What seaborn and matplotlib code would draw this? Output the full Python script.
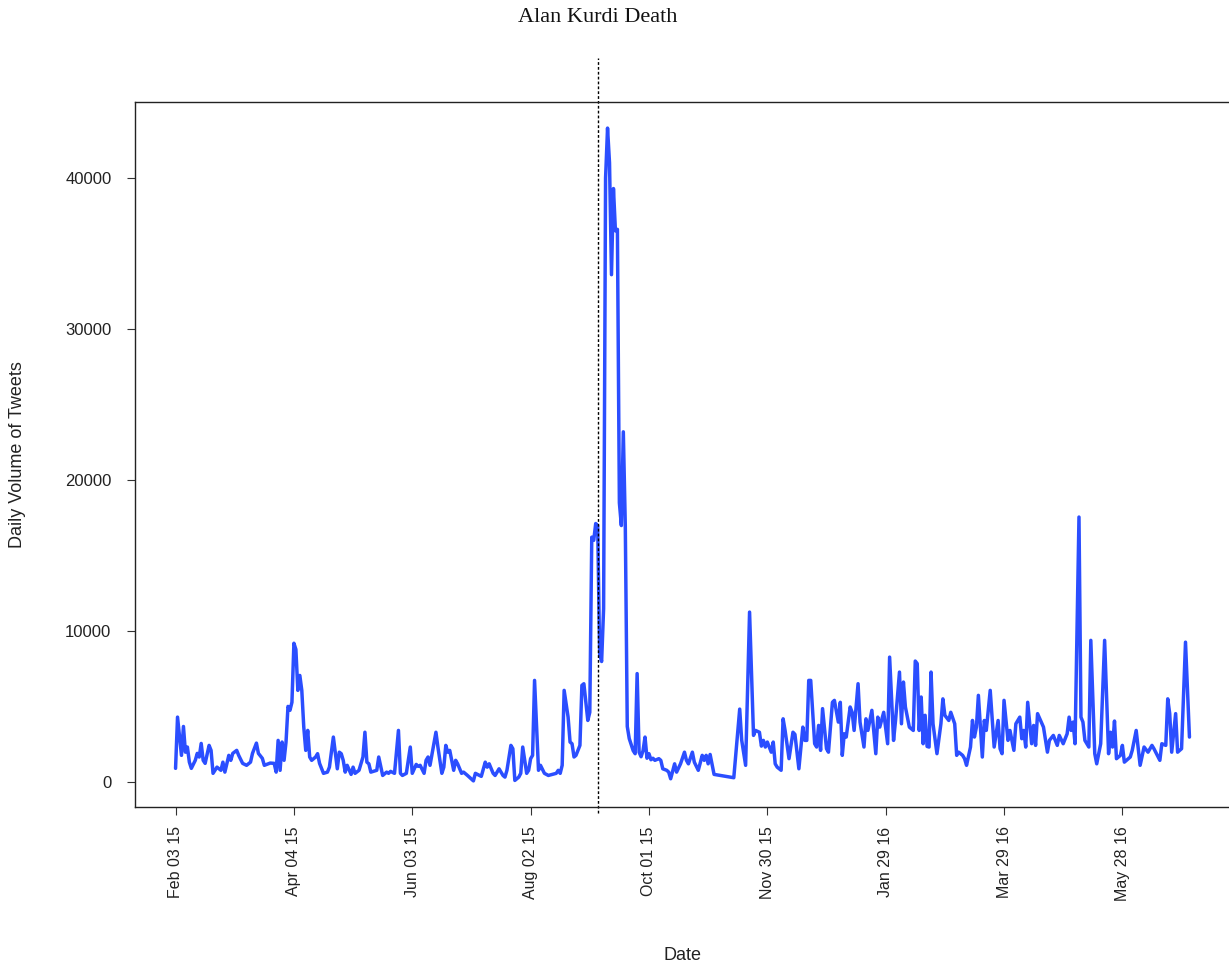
import matplotlib
matplotlib.use("Agg")
import matplotlib.pyplot as plt
import matplotlib.transforms as mtransforms
import pandas as pd
import seaborn as sns

# Daily tweet volume, counted in days since the first day of collection
start_date = "2015-02-03"
day_offset = [
    0, 1, 3, 4, 5, 6, 7, 8, 10, 11, 12, 13, 14, 15, 17, 18, 19, 21, 23, 24,
    25, 27, 28, 29, 31, 32, 34, 36, 38, 39, 41, 42, 44, 45, 48, 50, 51, 52, 53, 54,
    55, 56, 57, 58, 59, 60, 61, 62, 63, 64, 65, 66, 67, 68, 69, 71, 72, 73, 75, 77,
    78, 80, 82, 83, 84, 85, 86, 87, 89, 90, 91, 93, 95, 96, 97, 98, 99, 102, 103, 105,
    107, 108, 109, 111, 113, 114, 115, 117, 119, 120, 122, 123, 124, 126, 127, 128, 129, 132, 133, 135,
    136, 137, 138, 139, 141, 142, 143, 145, 146, 148, 151, 152, 155, 157, 158, 159, 161, 162, 164, 166,
    167, 168, 170, 171, 172, 174, 175, 176, 178, 179, 180, 181, 182, 184, 185, 187, 189, 193, 194, 195,
    196, 197, 199, 200, 201, 202, 203, 204, 205, 206, 207, 209, 210, 211, 212, 213, 214, 215, 216, 217,
    218, 219, 220, 221, 222, 223, 224, 225, 226, 227, 228, 229, 230, 231, 232, 233, 234, 235, 236, 237,
    238, 239, 240, 241, 242, 243, 245, 246, 247, 249, 250, 251, 253, 254, 256, 258, 259, 260, 262, 263,
    265, 267, 268, 269, 270, 271, 273, 283, 286, 287, 289, 291, 293, 294, 296, 297, 298, 299, 300, 302,
    303, 304, 305, 307, 308, 309, 311, 313, 314, 316, 318, 319, 320, 321, 322, 324, 325, 326, 327, 328,
    330, 331, 333, 334, 336, 337, 338, 339, 340, 342, 343, 344, 346, 347, 349, 350, 351, 353, 355, 356,
    357, 359, 361, 362, 364, 365, 367, 368, 369, 370, 372, 374, 375, 376, 377, 378, 379, 380, 381, 382,
    383, 384, 386, 388, 389, 390, 392, 393, 395, 396, 397, 399, 400, 401, 403, 404, 405, 406, 407, 409,
    410, 411, 413, 415, 417, 418, 419, 420, 422, 423, 425, 426, 428, 429, 430, 431, 432, 434, 435, 436,
    437, 440, 442, 443, 445, 447, 448, 450, 452, 453, 454, 455, 456, 458, 459, 460, 461, 463, 464, 466,
    467, 469, 471, 473, 474, 475, 476, 477, 479, 480, 481, 484, 485, 487, 489, 491, 493, 495, 496, 499,
    500, 502, 503, 504, 505, 507, 508, 510, 512, 514,
]
daily_tweets = [
    930, 4320, 1790, 3700, 2000, 2340, 1340, 930, 1460, 1920, 1680, 2580, 1460, 1260, 2450, 2120, 600, 1010, 800, 1340,
    680, 1790, 1460, 1920, 2120, 1790, 1260, 1130, 1340, 1920, 2600, 1920, 1590, 1130, 1280, 1260, 680, 2780, 800, 2670,
    1460, 2670, 5030, 4770, 5300, 9210, 8800, 6090, 7080, 6090, 3660, 2120, 3440, 1680, 1460, 1680, 1900, 1260, 600, 680,
    1010, 3000, 900, 2000, 1900, 1460, 680, 1130, 530, 1010, 600, 800, 1680, 3320, 1340, 1230, 680, 800, 1680, 460,
    680, 600, 730, 600, 3440, 600, 460, 600, 2340, 600, 1190, 1060, 1130, 600, 1460, 1680, 1130, 3320, 2340, 600,
    1010, 2450, 2000, 2120, 800, 1460, 1230, 600, 680, 460, 100, 600, 400, 1340, 1010, 1230, 600, 460, 900, 460,
    350, 800, 2450, 2230, 130, 350, 600, 2340, 600, 800, 1570, 1790, 6750, 800, 1130, 600, 460, 600, 800, 600,
    1130, 6090, 4320, 2670, 2560, 1680, 1790, 2120, 2450, 6420, 6530, 4100, 4640, 16230, 16020, 17130, 17000, 8500, 8000, 11500,
    40000, 43300, 41000, 33600, 39300, 36500, 36600, 18500, 17000, 23200, 17000, 3700, 2900, 2500, 2100, 1900, 7200, 2000, 1700, 2100,
    3000, 1600, 1900, 1500, 1600, 1460, 1570, 1460, 900, 800, 680, 240, 1230, 680, 1230, 2000, 1460, 1230, 2000, 1340,
    800, 1790, 1460, 1790, 1230, 1850, 530, 310, 4850, 2800, 1130, 11270, 3110, 3440, 3320, 2400, 2780, 2340, 2670, 2000,
    2670, 1230, 1010, 800, 4210, 3440, 1570, 3320, 3180, 900, 3660, 2780, 2780, 6750, 6750, 2560, 2340, 3770, 2120, 4880,
    2230, 2000, 5300, 5430, 3990, 5300, 1790, 3220, 3000, 4990, 4640, 3440, 6530, 3990, 2340, 4210, 3440, 4770, 1900, 4320,
    3660, 4640, 2560, 8290, 2780, 4100, 7300, 3880, 6640, 4990, 3660, 3440, 8030, 7860, 3440, 5650, 2560, 4440, 2380, 2340,
    7300, 3880, 1900, 3880, 5530, 4440, 4100, 4640, 3880, 1790, 2000, 1790, 1570, 1130, 2340, 4100, 3000, 3660, 5760, 1680,
    4100, 3440, 6090, 2340, 4100, 2230, 1900, 5430, 2780, 3440, 2120, 3880, 4320, 2890, 3440, 2340, 5300, 2560, 3770, 2450,
    4550, 3660, 2000, 2780, 3110, 2450, 3110, 2560, 3220, 4320, 3440, 3990, 2560, 17560, 4320, 3990, 2780, 2340, 9400, 1900,
    1230, 2560, 9400, 1900, 3320, 2340, 4060, 1570, 1790, 2450, 1340, 1680, 2120, 3440, 1130, 2340, 2000, 2450, 2230, 1460,
    2560, 2450, 5530, 4550, 2000, 4550, 2000, 2230, 9280, 3000,
]

event_date = "2015-09-05"
event_label = "Alan Kurdi Death"

tick_dates = ["2015-02-03", "2015-04-04", "2015-06-03", "2015-08-02", "2015-10-01",
              "2015-11-30", "2016-01-29", "2016-03-29", "2016-05-28"]
tick_labels = ["Feb 03 15", "Apr 04 15", "Jun 03 15", "Aug 02 15", "Oct 01 15",
               "Nov 30 15", "Jan 29 16", "Mar 29 16", "May 28 16"]
y_ticks = [0, 10000, 20000, 30000, 40000]

df = pd.DataFrame({
    "Date": pd.to_datetime(start_date) + pd.to_timedelta(day_offset, unit="D"),
    "Tweets": daily_tweets,
})

sns.set_style("white")
plt.rcParams["font.family"] = ["Liberation Sans", "DejaVu Sans"]

W, H = 1229, 967
fig = plt.figure(figsize=(W / 100, H / 100), dpi=100)
ax = fig.add_axes([135 / W, 1 - 807 / H, (1230 - 135) / W, (807 - 102) / H])

sns.lineplot(data=df, x="Date", y="Tweets", ax=ax, color="#2b4eff",
             linewidth=2.5, estimator=None)

# 4% padding on both axes around the data range
x_num = matplotlib.dates.date2num(df["Date"])
xr = x_num.max() - x_num.min()
ax.set_xlim(x_num.min() - 0.04 * xr, x_num.max() + 0.04 * xr)
yr = df["Tweets"].max() - df["Tweets"].min()
ax.set_ylim(df["Tweets"].min() - 0.04 * yr, df["Tweets"].max() + 0.04 * yr)

ax.set_xticks(pd.to_datetime(tick_dates))
ax.set_xticklabels(tick_labels, rotation=90)
ax.set_yticks(y_ticks)
ax.set_yticklabels([str(v) for v in y_ticks])

ax.tick_params(axis="both", direction="out", length=6, width=0.8, color="#333333",
               labelsize=12, labelcolor="#222222")
ax.tick_params(axis="x", pad=8, labelsize=11.5)
ax.tick_params(axis="y", pad=11)
ax.xaxis.set_ticks_position("bottom")
ax.yaxis.set_ticks_position("left")

for side in ["left", "bottom", "top", "right"]:
    ax.spines[side].set_visible(True)
    ax.spines[side].set_color("#222222")
    ax.spines[side].set_linewidth(1.0)

ax.set_xlabel("Date", fontsize=13, color="#222222", va="center")
ax.set_ylabel("Daily Volume of Tweets", fontsize=13, color="#222222", va="center")
ax.xaxis.set_label_coords(0.5, -(955 - 807) / 705)
ax.yaxis.set_label_coords(-(135 - 18) / 1095, 0.5)

# Event marker: dotted vertical line running past the plotting box, with a label above
blend = mtransforms.blended_transform_factory(ax.transData, ax.transAxes)
ev = matplotlib.dates.date2num(pd.to_datetime(event_date))
ax.plot([ev, ev], [-0.009, 1.0625], transform=blend, color="black",
        linewidth=1.0, dashes=(2.0, 1.5), clip_on=False)
ax.text(ev, (807 - 18) / 705, event_label, transform=blend, ha="center", va="center",
        fontsize=16, family=["Liberation Serif", "DejaVu Serif"], color="#111111")

fig.savefig("out.png", dpi=100)
